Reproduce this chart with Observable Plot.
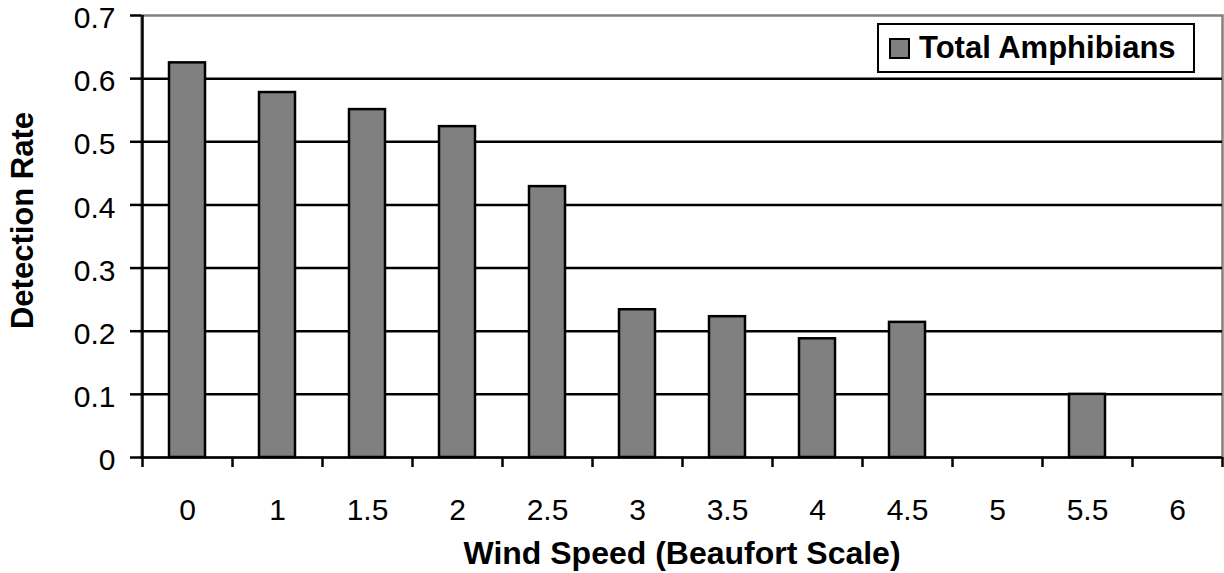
<!DOCTYPE html>
<html>
<head>
<meta charset="utf-8">
<script src="https://cdn.jsdelivr.net/npm/d3@7"></script>
<script src="https://cdn.jsdelivr.net/npm/@observablehq/plot@0.6"></script>
<style>
  html, body { margin: 0; padding: 0; background: #fff; overflow: hidden; }
  #wrap { position: relative; width: 1224px; height: 573px; font-family: "Liberation Sans", Arial, sans-serif; }
  #wrap svg { display: block; }
  #legend { position: absolute; left: 877px; top: 23px; width: 314px; height: 46px; border: 2px solid #000; background: #fff;
            display: flex; align-items: center; box-sizing: content-box; }
  #legend .sw { width: 17px; height: 17px; background: #808080; border: 2px solid #000; margin-left: 10px; margin-right: 9px; }
  #legend .lb { font-weight: bold; font-size: 31px; color: #000; white-space: nowrap; }
</style>
</head>
<body>
<div id="wrap"></div>
<script>
const windSpeeds = ["0", "1", "1.5", "2", "2.5", "3", "3.5", "4", "4.5", "5", "5.5", "6"];
const detectionRates = [0.625, 0.578, 0.551, 0.524, 0.429, 0.234, 0.223, 0.188, 0.214, null, 0.100, null];
const yTicks = [0, 0.1, 0.2, 0.3, 0.4, 0.5, 0.6, 0.7];
const gridTicks = [0.1, 0.2, 0.3, 0.4, 0.5, 0.6];
const seriesName = "Total Amphibians";
const xTitle = "Wind Speed (Beaufort Scale)";
const yTitle = "Detection Rate";

const data = windSpeeds.map((s, i) => ({speed: s, rate: detectionRates[i]}));

const chart = Plot.plot({
  width: 1224,
  height: 573,
  marginLeft: 141,
  marginRight: 2,
  marginTop: 15,
  marginBottom: 116,
  style: {fontFamily: "'Liberation Sans', Arial, sans-serif", color: "#000", background: "#fff"},
  x: {domain: windSpeeds, paddingInner: 0.6, paddingOuter: 0.3},
  y: {domain: [0, 0.7]},
  marks: [
    Plot.frame({stroke: "#808080", strokeWidth: 2.5}),
    Plot.ruleY(gridTicks, {stroke: "#000", strokeWidth: 2.5}),
    Plot.barY(data.filter(d => d.rate != null), {x: "speed", y: "rate", fill: "#808080", stroke: "#000", strokeWidth: 2.5}),
    Plot.ruleY([0], {stroke: "#000", strokeWidth: 2.5}),
    Plot.ruleX([windSpeeds[0]], {stroke: "#000", strokeWidth: 2.5, dx: -45}),
    Plot.axisY({ticks: yTicks, tickFormat: () => "", tickSize: 11, strokeWidth: 2.5, label: null}),
    Plot.axisY({ticks: yTicks, tickFormat: d => d3.format("")(+d.toFixed(1)), tickSize: 0, tickPadding: 26, dy: 3, fontSize: 30, label: null}),
    Plot.axisX({ticks: windSpeeds, tickFormat: () => "", tickSize: 10, dx: -45, strokeWidth: 2.5, label: null}),
    Plot.axisX({ticks: [windSpeeds[windSpeeds.length - 1]], tickFormat: () => "", tickSize: 10, dx: 45, strokeWidth: 2.5, label: null}),
    Plot.axisX({ticks: windSpeeds, tickSize: 0, tickPadding: 41, fontSize: 30, label: null}),
    Plot.text([xTitle], {frameAnchor: "bottom", dy: 96, lineAnchor: "middle", textAnchor: "middle", fontSize: 32, fontWeight: "bold"}),
    Plot.text([yTitle], {frameAnchor: "left", rotate: -90, dx: -118, dy: -16, lineAnchor: "middle", textAnchor: "middle", fontSize: 31, fontWeight: "bold"})
  ]
});

const wrap = document.getElementById("wrap");
wrap.appendChild(chart);
const legend = document.createElement("div");
legend.id = "legend";
legend.innerHTML = `<div class="sw"></div><div class="lb"></div>`;
legend.querySelector(".lb").textContent = seriesName;
wrap.appendChild(legend);
</script>
</body>
</html>
